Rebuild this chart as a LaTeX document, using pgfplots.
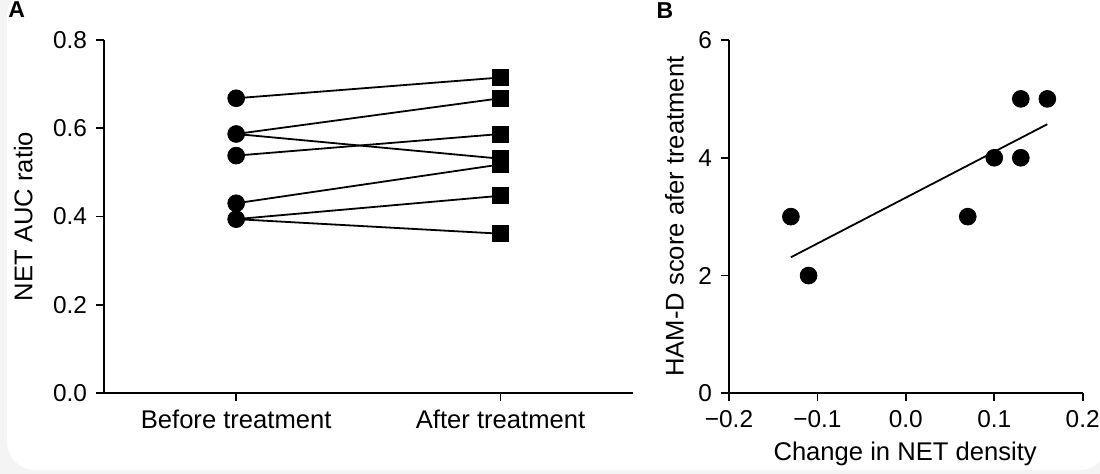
\documentclass[border=0pt]{standalone}
\usepackage{fontspec}
\setmainfont{Liberation Sans}
\usepackage{pgfplots}
\pgfplotsset{compat=1.18}
\definecolor{bggray}{RGB}{244,244,244}
\begin{document}
\fontsize{12.8}{15}\selectfont
\begin{tikzpicture}
\useasboundingbox (0,0) rectangle (550pt,237pt);
\begin{scope}
\clip (0,0) rectangle (550pt,237pt);
\fill[bggray] (0,0) rectangle (550pt,237pt);
\fill[white, rounded corners=14pt] (3.5pt,2pt) rectangle (554pt,243pt);
\end{scope}
\pgfplotsset{
  common/.style={
    scale only axis,
    anchor=south west,
    axis lines=left,
    axis line style={-, line width=0.9pt},
    tick align=outside,
    major tick length=4pt,
    tick style={black, line width=0.9pt},
    clip=false,
    tick label style={font=\fontsize{12.2}{14.5}\selectfont},
    label style={font=\fontsize{12.8}{15}\selectfont},
    /pgf/number format/assume math mode=true,
  }
}
\begin{axis}[common,
  at={(52pt,40.5pt)}, width=264.35pt, height=176.5pt,
  xmin=-0.5, xmax=1.5, ymin=0, ymax=0.8,
  xtick={0,1}, xticklabels={Before treatment, After treatment},
  x tick label style={font=\fontsize{12.8}{15}\selectfont},
  ytick={0,0.2,0.4,0.6,0.8}, yticklabels={0.0,0.2,0.4,0.6,0.8},
  ylabel={NET AUC ratio},
  every axis y label/.style={at={(axis description cs:-0.153,0.5)}, rotate=90, anchor=center},
]
\addplot[black, line width=0.9pt] coordinates {(0,0.668) (1,0.715)};
\addplot[black, line width=0.9pt] coordinates {(0,0.587) (1,0.668)};
\addplot[black, line width=0.9pt] coordinates {(0,0.587) (1,0.531)};
\addplot[black, line width=0.9pt] coordinates {(0,0.538) (1,0.587)};
\addplot[black, line width=0.9pt] coordinates {(0,0.430) (1,0.518)};
\addplot[black, line width=0.9pt] coordinates {(0,0.394) (1,0.447)};
\addplot[black, line width=0.9pt] coordinates {(0,0.394) (1,0.361)};
\addplot[only marks, mark=*, mark size=4.2pt, black] coordinates {(0,0.668) (0,0.587) (0,0.538) (0,0.430) (0,0.394)};
\addplot[only marks, mark=square*, mark size=4pt, black] coordinates {(1,0.715) (1,0.668) (1,0.587) (1,0.531) (1,0.518) (1,0.447) (1,0.361)};
\end{axis}
\begin{axis}[common,
  at={(364.5pt,40.35pt)}, width=176.85pt, height=176.65pt,
  xmin=-0.2, xmax=0.2, ymin=0, ymax=6,
  xtick={-0.2,-0.1,0,0.1,0.2}, xticklabels={−0.2,−0.1,0.0,0.1,0.2},
  ytick={0,2,4,6}, yticklabels={0,2,4,6},
  xlabel={Change in NET density},
  ylabel={HAM-D score afer treatment},
  every axis y label/.style={at={(axis description cs:-0.154,0.5)}, rotate=90, anchor=center},
  every axis x label/.style={at={(axis description cs:0.498,-0.172)}, anchor=center},
]
\addplot[black, line width=0.9pt] coordinates {(-0.13,2.31) (0.16,4.57)};
\addplot[only marks, mark=*, mark size=4.2pt, black] coordinates {(-0.13,3) (-0.11,2) (0.07,3) (0.10,4) (0.13,4) (0.13,5) (0.16,5)};
\end{axis}
\node[font=\bfseries\fontsize{11.5}{13}\selectfont] at (8.3pt,232pt) {A};
\node[font=\bfseries\fontsize{11.5}{13}\selectfont] at (332.5pt,231.6pt) {B};
\end{tikzpicture}
\end{document}
